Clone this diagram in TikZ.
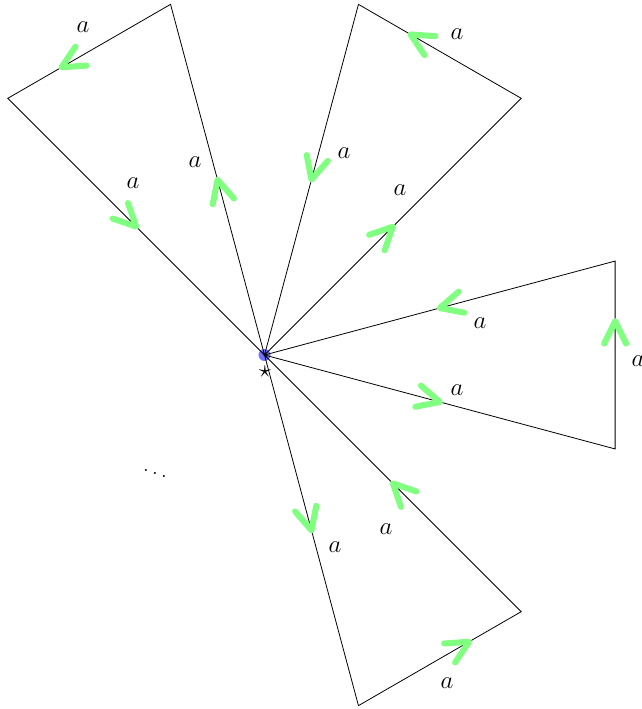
\documentclass[tikz,border=0pt]{standalone}
\usetikzlibrary{calc}
\newcommand\chevmark[3]{%
  \path ($(#1)!#3!(#2)$) coordinate (tip);
  \draw[chev] ($(tip)!25pt!26:(#1)$) -- (tip) -- ($(tip)!25pt!-26:(#1)$);}
\begin{document}
\begin{tikzpicture}[x=1pt,y=1pt,
  edge/.style={line width=0.8pt, line join=miter},
  chev/.style={draw=green!50, line width=6pt, line cap=round, line join=round},
  lab/.style={inner sep=0pt, font=\fontsize{24.9}{30}\selectfont}]
\useasboundingbox (-264.5,-354) rectangle (376.5,355);
\coordinate (C) at (0,0);
\fill[blue!55] (C) circle (6);
\foreach \n/\ang in {a/135,b/105,c/75,d/45,e/15,f/-15,g/-45,h/-75}
  \coordinate (\n) at (\ang:363);
\draw[edge] (C) -- (a) -- (b) -- cycle;
\draw[edge] (C) -- (c) -- (d) -- cycle;
\draw[edge] (C) -- (e) -- (f) -- cycle;
\draw[edge] (C) -- (g) -- (h) -- cycle;
% chevrons
\chevmark{C}{b}{0.5}
\chevmark{b}{a}{0.67}
\chevmark{a}{C}{0.5}
\chevmark{C}{d}{0.5}
\chevmark{d}{c}{0.68}
\chevmark{c}{C}{0.5}
\chevmark{C}{f}{0.5}
\chevmark{f}{e}{0.68}
\chevmark{e}{C}{0.5}
\chevmark{C}{h}{0.5}
\chevmark{h}{g}{0.68}
\chevmark{g}{C}{0.5}
% labels
\node[lab] (l1) at (-181.5,328) {$a$};
\node[lab] (l2) at (-131.5,172) {$a$};
\node[lab] (l3) at (-69.5,193) {$a$};
\node[lab] (l4) at (79.5,202) {$a$};
\node[lab] (l5) at (135.5,165) {$a$};
\node[lab] (l6) at (192.5,321) {$a$};
\node[lab] (l7) at (215.5,32) {$a$};
\node[lab] (l8) at (192.5,-35) {$a$};
\node[lab] (l9) at (373.5,-6) {$a$};
\node[lab] (l10) at (121.5,-174) {$a$};
\node[lab] (l11) at (70.5,-192) {$a$};
\node[lab] (l12) at (182.5,-328) {$a$};
\node[lab] (star) at (0.5,-17) {$\star$};
\node[lab] (dots) at (-109.5,-115) {$\ddots$};
\end{tikzpicture}
\end{document}
